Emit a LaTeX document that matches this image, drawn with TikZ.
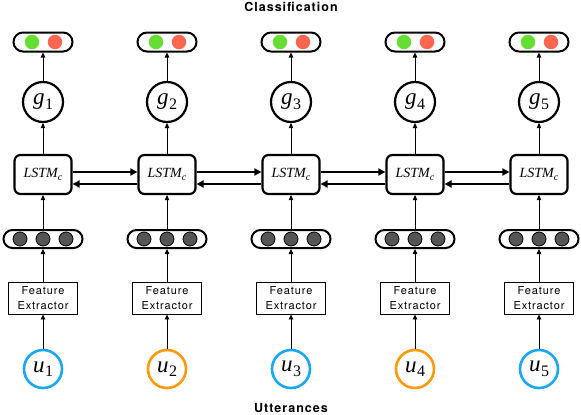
\documentclass[tikz,border=0pt]{standalone}
\usepackage{fontspec}
\setsansfont{TeX Gyre Heros}
\newfontfamily\fefont[LetterSpace=8]{TeX Gyre Heros}
\newfontfamily\ttlfont[LetterSpace=8]{TeX Gyre Heros}
\newfontfamily\tms{Liberation Serif}
\usetikzlibrary{arrows.meta}
\definecolor{smgreen}{HTML}{66DD33}
\definecolor{smred}{HTML}{FF6650}
\definecolor{ublue}{HTML}{1AA7F5}
\definecolor{uorange}{HTML}{FF9A0D}
\definecolor{dotgray}{HTML}{555555}
\newcommand{\symlab}[2]{{\tms\fontsize{23}{26}\selectfont\itshape #1}\kern0.5pt\raisebox{-4.5pt}{\tms\fontsize{16}{18}\selectfont #2}}
\newcommand{\lstmlab}{{\tms\fontsize{14}{16}\selectfont\itshape LSTM}\raisebox{-3pt}{\tms\fontsize{10}{12}\selectfont\itshape c}}
\tikzset{
  smpill/.style={draw, line width=2pt, minimum width=59pt, minimum height=19pt, rounded corners=9.5pt, inner sep=0pt},
  gcirc/.style={draw, circle, line width=2.2pt, minimum size=40pt, inner sep=0pt},
  lstmbox/.style={draw, line width=2.2pt, minimum width=57pt, minimum height=39pt, rounded corners=6pt, inner sep=0pt},
  dotpill/.style={draw, line width=2pt, minimum width=79pt, minimum height=18pt, rounded corners=9pt, inner sep=0pt},
  febox/.style={draw, line width=0.9pt, minimum width=69pt, minimum height=32pt, inner sep=0pt, align=center, font=\fefont\fontsize{11}{15}\selectfont},
  ucirc/.style={draw, circle, line width=2.6pt, minimum size=38pt, inner sep=0pt},
  smdot/.style={circle, minimum size=14.5pt, inner sep=0pt, fill=#1},
  gdot/.style={circle, draw=black, line width=0.8pt, fill=dotgray, minimum size=14pt, inner sep=0pt},
  varrow/.style={line width=0.9pt, -{Triangle[length=5pt,width=4.5pt]}},
  harrow/.style={line width=1.8pt, -{Triangle[length=7pt,width=7pt]}},
  ttl/.style={font=\ttlfont\bfseries\fontsize{12.5}{14}\selectfont}
}
\begin{document}
\begin{tikzpicture}[x=1pt,y=-1pt]
\useasboundingbox (0,0) rectangle (581,415);
\node[ttl] (cls) at (291,7) {Classification};
\node[ttl] (utt) at (291,408) {Utterances};
\foreach \i/\c in {1/ublue,2/uorange,3/ublue,4/uorange,5/ublue}{
  \pgfmathsetmacro{\xx}{43+124*(\i-1)}
  \node[smpill] (sm\i) at (\xx,42) {};
  \node[smdot=smgreen] (smg\i) at (\xx-11,42) {};
  \node[smdot=smred] (smr\i) at (\xx+12,42) {};
  \node[gcirc] (g\i) at (\xx,102) {\symlab{g}{\i}};
  \node[lstmbox] (l\i) at (\xx,174.5) {\lstmlab};
  \node[dotpill] (d\i) at (\xx,239) {};
  \node[gdot] (da\i) at (\xx-23,239) {};
  \node[gdot] (db\i) at (\xx,239) {};
  \node[gdot] (dc\i) at (\xx+23,239) {};
  \node[febox] (f\i) at (\xx,298) {Feature\\Extractor};
  \node[ucirc, draw=\c] (u\i) at (\xx,369) {\symlab{u}{\i}};
  \draw[varrow] (u\i) -- (f\i);
  \draw[varrow] (f\i) -- (d\i);
  \draw[varrow] (d\i) -- (l\i);
  \draw[varrow] (l\i) -- (g\i);
  \draw[varrow] (g\i) -- (sm\i);
}
\foreach \a/\b in {1/2,2/3,3/4,4/5}{
  \draw[harrow] ([yshift=2.5pt]l\a.east) -- ([yshift=2.5pt]l\b.west);
  \draw[harrow] ([yshift=-9.5pt]l\b.west) -- ([yshift=-9.5pt]l\a.east);
}
\end{tikzpicture}
\end{document}
